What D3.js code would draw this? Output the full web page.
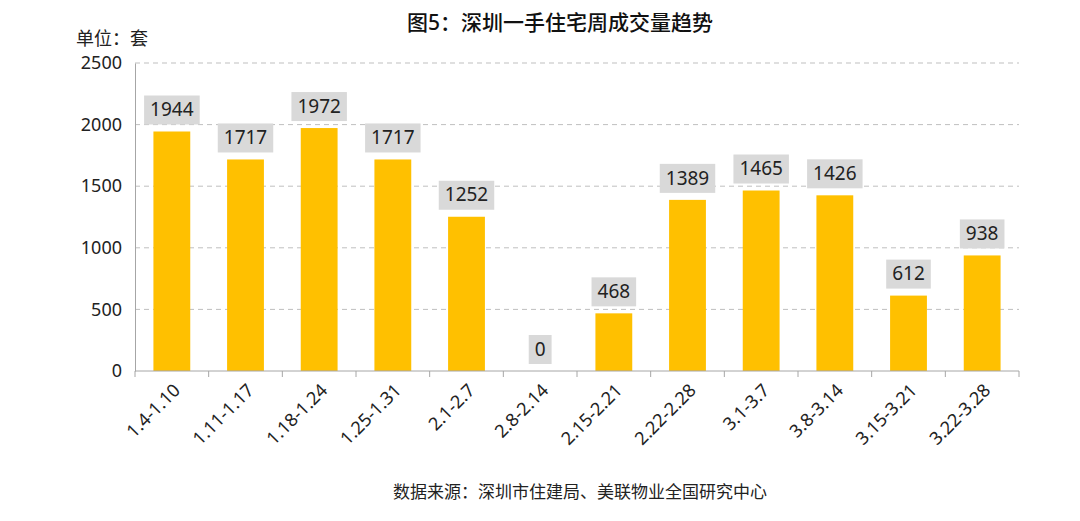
<!DOCTYPE html>
<html>
<head>
<meta charset="utf-8">
<script src="https://cdn.jsdelivr.net/npm/d3@7"></script>
<style>
  body { margin: 0; background: #fff; }
  svg { display: block; }
  text { font-family: "Noto Sans", "Noto Sans CJK SC", sans-serif; }
</style>
</head>
<body>
<svg id="chart" width="1080" height="521"></svg>
<script>
"use strict";

const weeks = ["1.4-1.10", "1.11-1.17", "1.18-1.24", "1.25-1.31", "2.1-2.7", "2.8-2.14",
    "2.15-2.21", "2.22-2.28", "3.1-3.7", "3.8-3.14", "3.15-3.21", "3.22-3.28"];
const deals = [1944, 1717, 1972, 1717, 1252, 0, 468, 1389, 1465, 1426, 612, 938];
const yTicks = [0, 500, 1000, 1500, 2000, 2500];

const svg = d3.select("#chart");
const margin = { left: 135, right: 61, top: 63, bottom: 150 };
const W = 1080, H = 521;

const x = d3.scaleBand()
    .domain(weeks)
    .range([margin.left, W - margin.right])
    .paddingInner(0.5)
    .paddingOuter(0.25);
const y = d3.scaleLinear()
    .domain([0, 2500])
    .range([H - margin.bottom, margin.top]);

// gridlines
svg.append("g")
    .selectAll("line")
    .data(yTicks.filter((d) => d > 0))
    .join("line")
    .attr("x1", margin.left)
    .attr("x2", W - margin.right)
    .attr("y1", (d) => y(d))
    .attr("y2", (d) => y(d))
    .attr("stroke", "#bfbfbf")
    .attr("stroke-width", 1)
    .attr("stroke-dasharray", "5,4");

// y axis
const yAxis = svg.append("g")
    .attr("transform", `translate(${margin.left},0)`)
    .call(d3.axisLeft(y).tickValues(yTicks).tickFormat(d3.format("d")).tickSize(0).tickPadding(13));
yAxis.select(".domain").attr("stroke", "#a6a6a6");
yAxis.selectAll("text")
    .attr("font-size", 18)
    .attr("fill", "#222");

// bars
svg.append("g")
    .selectAll("rect")
    .data(deals)
    .join("rect")
    .attr("x", (d, i) => x(weeks[i]))
    .attr("y", (d) => y(d))
    .attr("width", x.bandwidth())
    .attr("height", (d) => y(0) - y(d))
    .attr("fill", "#ffc000");

// x axis with ticks at band boundaries
const xAxisG = svg.append("g")
    .attr("transform", `translate(0,${y(0)})`);
xAxisG.append("line")
    .attr("x1", margin.left)
    .attr("x2", W - margin.right)
    .attr("stroke", "#a6a6a6");
const step = x.step();
const bounds = d3.range(weeks.length + 1).map((i) => margin.left + i * step);
xAxisG.selectAll("line.tick")
    .data(bounds)
    .join("line")
    .attr("class", "tick")
    .attr("x1", (d) => d)
    .attr("x2", (d) => d)
    .attr("y1", 0)
    .attr("y2", 6)
    .attr("stroke", "#a6a6a6");
xAxisG.selectAll("text")
    .data(weeks)
    .join("text")
    .attr("transform", (d) => `translate(${x(d) + x.bandwidth() / 2 + 5},${16}) rotate(-45)`)
    .attr("text-anchor", "end")
    .attr("dy", "0.35em")
    .attr("font-size", 18)
    .attr("fill", "#222")
    .text((d) => d);

// value labels on gray boxes
const labels = svg.append("g")
    .selectAll("g")
    .data(deals)
    .join("g")
    .attr("transform", (d, i) => `translate(${x(weeks[i]) + x.bandwidth() / 2},${y(d) - 22})`);
labels.append("text")
    .attr("text-anchor", "middle")
    .attr("dy", "0.35em")
    .attr("font-size", 19)
    .attr("fill", "#222")
    .text((d) => d);
labels.each(function () {
    const g = d3.select(this);
    const bb = g.select("text").node().getBBox();
    g.insert("rect", "text")
        .attr("x", bb.x - 6)
        .attr("y", -14)
        .attr("width", bb.width + 12)
        .attr("height", 29)
        .attr("fill", "#d9d9d9");
});

// title, unit, source
svg.append("text")
    .attr("x", 560)
    .attr("y", 30)
    .attr("text-anchor", "middle")
    .attr("font-size", 21)
    .attr("font-weight", 500)
    .attr("fill", "#111")
    .text("图5：深圳一手住宅周成交量趋势");
svg.append("text")
    .attr("x", 76)
    .attr("y", 45)
    .attr("font-size", 18)
    .attr("fill", "#222")
    .text("单位：套");
svg.append("text")
    .attr("x", 580)
    .attr("y", 498)
    .attr("text-anchor", "middle")
    .attr("font-size", 17)
    .attr("fill", "#222")
    .text("数据来源：深圳市住建局、美联物业全国研究中心");
</script>
</body>
</html>
